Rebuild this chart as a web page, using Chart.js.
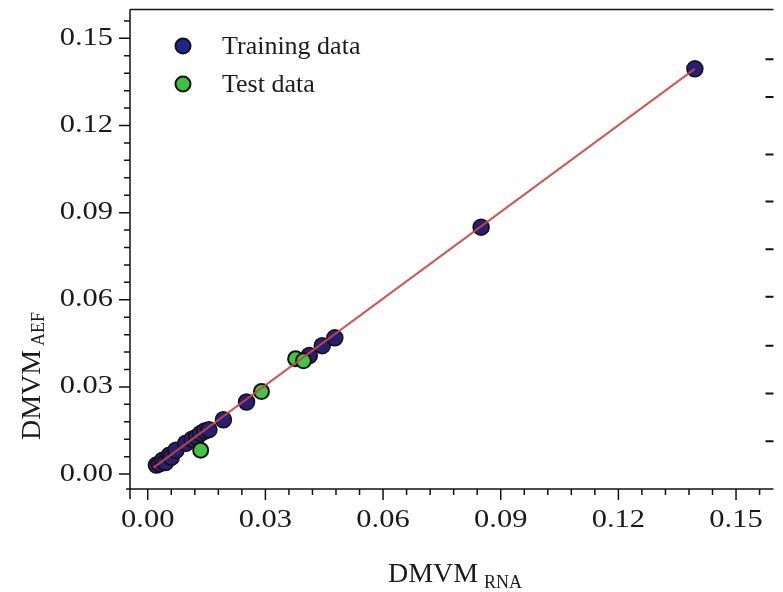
<!DOCTYPE html>
<html>
<head>
<meta charset="utf-8">
<script src="https://cdn.jsdelivr.net/npm/chart.js@4"></script>
<style>
  body { margin: 0; background: #fff; }
  canvas { display: block; }
</style>
</head>
<body>
<canvas id="chart" width="783" height="592"></canvas>
<script>
// axis ticks
const xTicks = [0, 0.03, 0.06, 0.09, 0.12, 0.15];
const yTicks = [0, 0.03, 0.06, 0.09, 0.12, 0.15];
const rightTicks = [0.0113, 0.0277, 0.0442, 0.061, 0.0774, 0.0938, 0.110, 0.1298, 0.1428];

// training data (DMVM RNA vs DMVM AEF)
const trainX = [0.0022, 0.0030, 0.0038, 0.0045, 0.0055, 0.0060, 0.0072, 0.0097, 0.0113, 0.0125, 0.0135, 0.0145, 0.0156, 0.0193, 0.0252, 0.0412, 0.0445, 0.0477, 0.0850, 0.1395];
const trainY = [0.0031, 0.0035, 0.0048, 0.0040, 0.0065, 0.0058, 0.0082, 0.0106, 0.0120, 0.0128, 0.0140, 0.0148, 0.0153, 0.0187, 0.0248, 0.0408, 0.0442, 0.0469, 0.0850, 0.1395];

// test data
const testX = [0.0135, 0.0290, 0.0377, 0.0397];
const testY = [0.0082, 0.0284, 0.0397, 0.0390];

// fitted line
const fitX = [0.0015, 0.1395];
const fitY = [0.0022, 0.1395];

const toPts = (xs, ys) => xs.map((v, i) => ({ x: v, y: ys[i] }));

function drawText(ctx, str, x, y, font, align, sx) {
  ctx.save();
  ctx.translate(x, y);
  ctx.scale(sx, 1);
  ctx.font = font;
  ctx.textAlign = align;
  ctx.textBaseline = 'middle';
  ctx.fillStyle = '#1a1a1a';
  ctx.fillText(str, 0, 0);
  ctx.restore();
}

const decor = {
  id: 'decor',
  afterDraw(chart) {
    const { ctx, chartArea: a, scales: { x, y } } = chart;
    ctx.save();
    ctx.strokeStyle = '#111';
    ctx.lineWidth = 1.5;

    // frame: left, bottom, top
    ctx.beginPath();
    ctx.moveTo(a.left, a.top);
    ctx.lineTo(a.left, a.bottom + 10);
    ctx.moveTo(a.left - 4, a.bottom);
    ctx.lineTo(a.right, a.bottom);
    ctx.moveTo(a.left, a.top);
    ctx.lineTo(a.right, a.top);
    ctx.stroke();

    // ticks, major + 4 minor per step
    ctx.beginPath();
    for (let i = 0; i <= 26; i++) {
      const v = i * 0.006;
      const major = i % 5 === 0;
      const len = major ? 11 : 6;
      const py = y.getPixelForValue(v);
      if (py >= a.top) {
        ctx.moveTo(a.left - len, py);
        ctx.lineTo(a.left, py);
      }
      const px = x.getPixelForValue(v);
      if (px <= a.right) {
        ctx.moveTo(px, a.bottom);
        ctx.lineTo(px, a.bottom + len);
      }
    }
    ctx.stroke();

    // right side ticks
    ctx.lineWidth = 2;
    ctx.beginPath();
    rightTicks.forEach(v => {
      const py = y.getPixelForValue(v);
      ctx.moveTo(a.right - 8, py);
      ctx.lineTo(a.right, py);
    });
    ctx.stroke();

    // tick labels
    const tf = '25px "Liberation Serif"';
    yTicks.forEach(v => drawText(ctx, v.toFixed(2), 113, y.getPixelForValue(v), tf, 'right', 1.22));
    xTicks.forEach(v => drawText(ctx, v.toFixed(2), x.getPixelForValue(v), 520, tf, 'center', 1.22));

    // x title with subscript
    drawText(ctx, 'DMVM', 388, 575, '28px "Liberation Serif"', 'left', 1.0);
    drawText(ctx, 'RNA', 484, 583, '18px "Liberation Serif"', 'left', 1.0);

    // y title, rotated
    ctx.save();
    ctx.translate(33, 440);
    ctx.rotate(-Math.PI / 2);
    drawText(ctx, 'DMVM', 0, 0, '28px "Liberation Serif"', 'left', 1.0);
    drawText(ctx, 'AEF', 94, 6, '18px "Liberation Serif"', 'left', 1.0);
    ctx.restore();

    // legend
    const items = [
      { label: 'Training data', fill: '#1f2590', yy: 46 },
      { label: 'Test data', fill: '#3fc13f', yy: 84 }
    ];
    items.forEach(it => {
      ctx.beginPath();
      ctx.arc(183, it.yy, 7.5, 0, Math.PI * 2);
      ctx.fillStyle = it.fill;
      ctx.fill();
      ctx.lineWidth = 2;
      ctx.strokeStyle = '#111';
      ctx.stroke();
      drawText(ctx, it.label, 222, it.yy + 1, '26px "Liberation Serif"', 'left', 1.0);
    });
    ctx.restore();
  }
};

new Chart(document.getElementById('chart'), {
  type: 'scatter',
  data: {
    datasets: [
      {
        type: 'line',
        label: 'fit',
        data: toPts(fitX, fitY),
        borderColor: 'rgba(196, 72, 66, 0.9)',
        borderWidth: 2,
        pointRadius: 0,
        fill: false,
        order: 0
      },
      {
        label: 'Test data',
        data: toPts(testX, testY),
        backgroundColor: '#44c444',
        borderColor: '#111',
        borderWidth: 2,
        pointRadius: 7.5,
        order: 1
      },
      {
        label: 'Training data',
        data: toPts(trainX, trainY),
        backgroundColor: '#2a1e72',
        borderColor: '#111',
        borderWidth: 1.5,
        pointRadius: 8,
        order: 2
      }
    ]
  },
  options: {
    responsive: false,
    animation: false,
    layout: { padding: { top: 7, right: 0, left: 0, bottom: 0 } },
    plugins: { legend: { display: false }, tooltip: { enabled: false } },
    scales: {
      x: {
        type: 'linear',
        min: -0.00452,
        max: 0.15955,
        ticks: { display: false },
        grid: { display: false },
        border: { display: false },
        afterFit: s => { s.height = 103; }
      },
      y: {
        type: 'linear',
        min: -0.00514,
        max: 0.15993,
        ticks: { display: false },
        grid: { display: false },
        border: { display: false },
        afterFit: s => { s.width = 130; }
      }
    }
  },
  plugins: [decor]
});
</script>
</body>
</html>
